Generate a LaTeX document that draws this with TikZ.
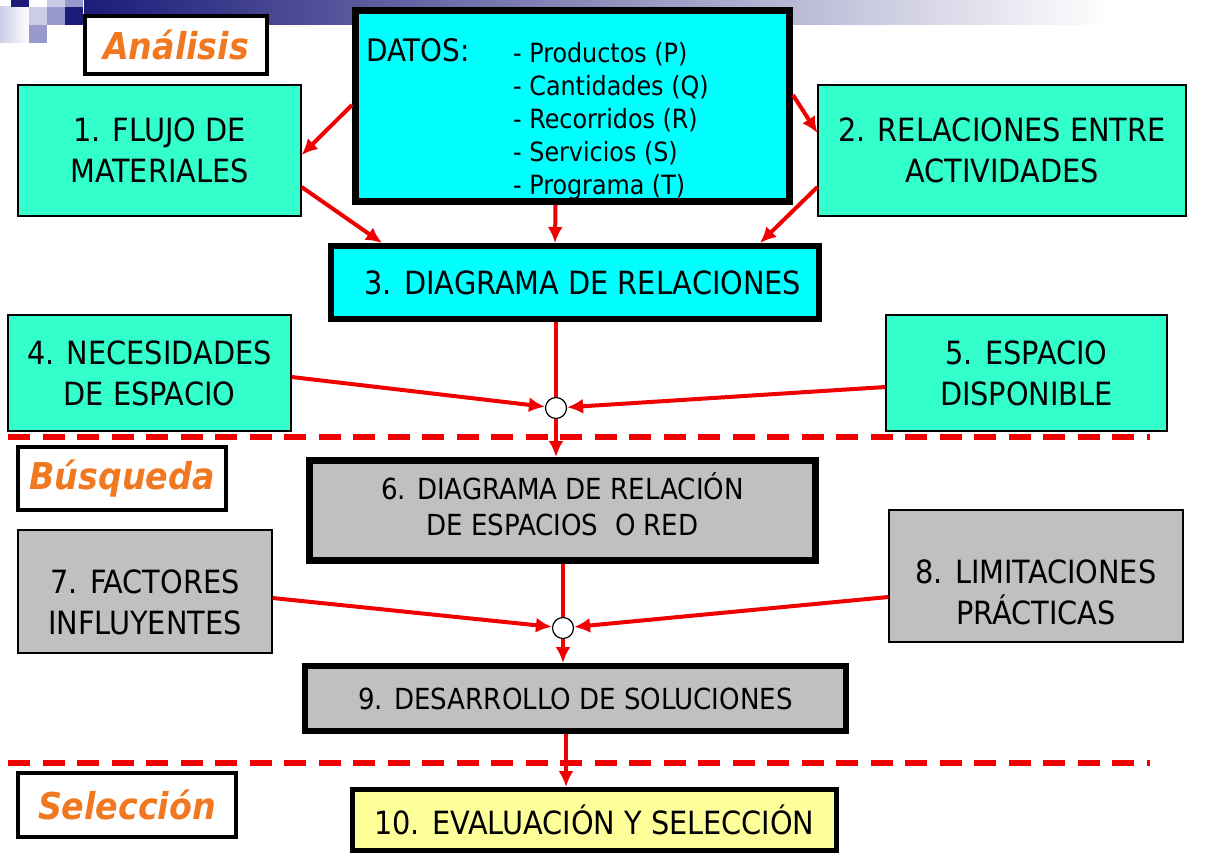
\documentclass[tikz,border=0pt]{standalone}
\usepackage{fontspec}
\setmainfont{DejaVu Sans Condensed}
\usetikzlibrary{arrows.meta}

\definecolor{verde}{HTML}{33FFCC}
\definecolor{cian}{HTML}{00FFFF}
\definecolor{gris}{HTML}{C0C0C0}
\definecolor{amarillo}{HTML}{FFFF99}
\definecolor{naranja}{HTML}{F07820}
\definecolor{rojo}{HTML}{F00000}
\definecolor{marino}{HTML}{1C1C7A}
\definecolor{lila}{HTML}{9999CC}
\definecolor{lilaclaro}{HTML}{CCCCE6}

\tikzset{
  caja/.style={draw, line width=1.2pt, align=center, inner sep=0pt, font=\fontsize{32}{41}\selectfont},
  cajagruesa/.style={caja, line width=6pt},
  etapa/.style={draw, line width=4pt, fill=white, inner sep=0pt, text=naranja, font=\fontsize{37}{40}\selectfont\bfseries\itshape},
  flecha/.style={rojo, line width=4pt, -{Latex[length=16pt,width=15pt]}},
  linea/.style={rojo, line width=4pt},
  nudo/.style={circle, draw, line width=1.2pt, fill=white, minimum size=21pt, inner sep=0pt},
  corte/.style={rojo, line width=6pt, dash pattern=on 22pt off 12.5pt},
}

\begin{document}
\begin{tikzpicture}[x=1pt, y=-1pt]
  \useasboundingbox (0,0) rectangle (1206,864);
  \fill[white] (0,0) rectangle (1206,864);
  \shade[left color=marino, right color=white] (84,0) rectangle (1110,25);
  \shade[left color=lilaclaro, right color=white] (0,7) rectangle (29,43);
  \foreach \x/\y/\c in {11/-11/marino, 47/-11/lilaclaro, 65/-11/lila, 29/7/lilaclaro, 47/7/lila, 65/7/marino, 29/25/lila}{
    \fill[\c] (\x,\y) rectangle ++(18,18);
  }

  \node[etapa, minimum width=182pt, minimum height=58pt] (analisis) at (176,45) {Análisis};
  \node[caja, fill=verde, minimum width=283pt, minimum height=131pt] (flujo) at (159.5,150.5) {1. FLUJO DE\\MATERIALES};
  \node[cajagruesa, line width=7pt, fill=cian, minimum width=434pt, minimum height=191pt] (datos) at (572.5,106) {};
  \node[anchor=base west, inner sep=0pt, font=\fontsize{31}{33}\selectfont] (datostit) at (366,62) {DATOS:};
  \foreach \d [count=\i] in {Productos (P), Cantidades (Q), Recorridos (R), Servicios (S), Programa (T)}{
    \node[anchor=base west, inner sep=0pt, font=\fontsize{26.5}{33}\selectfont] (dato\i) at (513,30+32.8*\i) {- \d};
  }
  \node[caja, fill=verde, minimum width=368pt, minimum height=131pt] (relact) at (1002,150.5) {2. RELACIONES ENTRE\\ACTIVIDADES};
  \node[cajagruesa, fill=cian, minimum width=488pt, minimum height=73pt] (diagrel) at (575,282.5) {\hspace*{16pt}3. DIAGRAMA DE RELACIONES};
  \node[caja, fill=verde, minimum width=283pt, minimum height=116pt] (necesidad) at (149.5,373) {4. NECESIDADES\\DE ESPACIO};
  \node[caja, fill=verde, minimum width=281pt, minimum height=116pt] (espacio) at (1026.5,373) {5. ESPACIO\\DISPONIBLE};
  \node[nudo] (nudoa) at (556,408) {};

  \draw[corte] (8,437) -- (1150,437);

  \node[etapa, minimum width=208pt, minimum height=63pt] (busqueda) at (122,478.5) {Búsqueda};
  \node[cajagruesa, line width=7pt, fill=gris, minimum width=506pt, minimum height=100pt, font=\fontsize{29}{36}\selectfont] (redesp) at (562.5,510.5) {6. DIAGRAMA DE RELACIÓN\\DE ESPACIOS\ \ O RED\rule[-12pt]{0pt}{12pt}};
  \node[caja, fill=gris, minimum width=254pt, minimum height=123pt] (factores) at (145,591.5) {\rule{0pt}{46pt}7. FACTORES\\INFLUYENTES};
  \node[caja, fill=gris, minimum width=294pt, minimum height=132pt] (limites) at (1036,576) {\rule{0pt}{56pt}8. LIMITACIONES\\PRÁCTICAS};
  \node[nudo] (nudob) at (563,628) {};
  \node[cajagruesa, fill=gris, minimum width=541pt, minimum height=65pt, font=\fontsize{29}{36}\selectfont] (soluciones) at (575.5,698.5) {9. DESARROLLO DE SOLUCIONES};

  \draw[corte] (8,763) -- (1150,763);

  \node[etapa, minimum width=218pt, minimum height=64pt] (seleccion) at (127,805) {Selección};
  \node[cajagruesa, line width=5pt, fill=amarillo, minimum width=484pt, minimum height=61pt] (evalua) at (594.5,820) {10. EVALUACIÓN Y SELECCIÓN};

  \draw[flecha] ([yshift=1pt]datos.west) -- ([yshift=-4.5pt]flujo.east);
  \draw[flecha] ([yshift=-36.5pt]flujo.east) -- ([xshift=-193pt]diagrel.north);
  \draw[flecha] ([xshift=-17pt]datos.south) -- ([xshift=-20pt]diagrel.north);
  \draw[flecha] ([yshift=11pt]datos.east) -- ([yshift=17.5pt]relact.west);
  \draw[flecha] ([yshift=-36.5pt]relact.west) -- ([xshift=185pt]diagrel.north);
  \draw[linea] (nudoa |- diagrel.south) -- (nudoa);
  \draw[flecha] ([yshift=-4pt]necesidad.east) -- (nudoa);
  \draw[flecha] ([yshift=-14pt]espacio.west) -- (nudoa);
  \draw[flecha] (nudoa) -- (nudoa |- redesp.north);
  \draw[linea] (nudob |- redesp.south) -- (nudob);
  \draw[flecha] ([yshift=-6.5pt]factores.east) -- (nudob);
  \draw[flecha] ([yshift=-21pt]limites.west) -- (nudob);
  \draw[flecha] (nudob) -- (nudob |- soluciones.north);
  \draw[flecha] ([xshift=-9.5pt]soluciones.south) -- ([xshift=-9.5pt]soluciones.south |- evalua.north);
\end{tikzpicture}
\end{document}
